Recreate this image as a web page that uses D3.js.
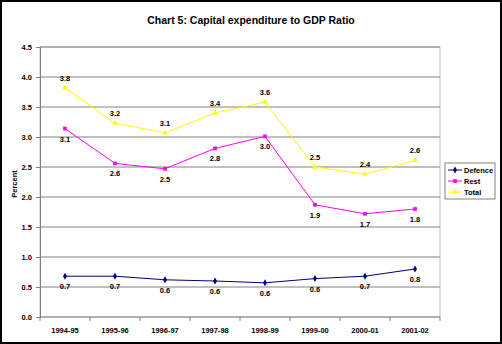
<!DOCTYPE html>
<html>
<head>
<meta charset="utf-8">
<script src="https://cdn.jsdelivr.net/npm/d3@7"></script>
<style>
  body { margin: 0; background: #fff; }
  svg { display: block; font-family: "Liberation Sans", Arial, sans-serif; }
</style>
</head>
<body>
<div id="chart"></div>
<script>
// categories and series
const years = ["1994-95", "1995-96", "1996-97", "1997-98", "1998-99", "1999-00", "2000-01", "2001-02"];
const defence = [0.68, 0.68, 0.62, 0.60, 0.57, 0.64, 0.68, 0.80];
const rest = [3.14, 2.56, 2.47, 2.81, 3.01, 1.87, 1.72, 1.80];
const total = [3.82, 3.23, 3.07, 3.40, 3.58, 2.50, 2.38, 2.61];
const yTicks = [0, 0.5, 1, 1.5, 2, 2.5, 3, 3.5, 4, 4.5];

const W = 502, H = 344;
var margin = { top: 47, right: 62, bottom: 27, left: 40 },
    width = W - margin.left - margin.right,
    height = H - margin.top - margin.bottom;

var root = d3.select("#chart").append("svg")
    .attr("width", W)
    .attr("height", H);

// outer frame
root.append("rect")
    .attr("x", 1).attr("y", 1)
    .attr("width", W - 2).attr("height", H - 2)
    .style("fill", "#fff")
    .style("stroke", "#000")
    .style("stroke-width", 2);

root.append("text")
    .attr("x", W / 2)
    .attr("y", 24)
    .attr("text-anchor", "middle")
    .style("font-size", "10.5px")
    .style("font-weight", "bold")
    .text("Chart 5: Capital expenditure to GDP Ratio");

var svg = root.append("g")
    .attr("transform", "translate(" + margin.left + "," + margin.top + ")");

var x = d3.scaleBand().domain(years).range([0, width]);
var y = d3.scaleLinear().domain([0, 4.5]).range([height, 0]);

// plot frame
svg.append("rect")
    .attr("width", width).attr("height", height)
    .style("fill", "none")
    .style("stroke", "#c0c0c0");

// horizontal gridlines
svg.selectAll(".grid")
    .data(yTicks.filter(d => d > 0))
    .enter().append("line")
    .attr("x1", 0).attr("x2", width)
    .attr("y1", d => y(d)).attr("y2", d => y(d))
    .style("stroke", "#808080");

// y axis
var yAxis = svg.append("g")
    .call(d3.axisLeft(y).tickValues(yTicks).tickFormat(d3.format(".1f")).tickSize(4));
yAxis.select(".domain").style("stroke", "#808080");
yAxis.selectAll(".tick line").style("stroke", "#808080");
yAxis.selectAll("text")
    .attr("x", -8)
    .style("font-size", "7.5px")
    .style("font-weight", "bold")
    .style("font-family", "'Liberation Sans', Arial, sans-serif");

// x axis with ticks between categories
var xAxis = svg.append("g").attr("transform", "translate(0," + height + ")");
xAxis.append("line")
    .attr("x1", 0).attr("x2", width)
    .style("stroke", "#808080");
xAxis.selectAll(".sep")
    .data(d3.range(years.length + 1))
    .enter().append("line")
    .attr("x1", i => i * x.bandwidth()).attr("x2", i => i * x.bandwidth())
    .attr("y1", 0).attr("y2", 4)
    .style("stroke", "#808080");
xAxis.selectAll(".lbl")
    .data(years)
    .enter().append("text")
    .attr("x", d => x(d) + x.bandwidth() / 2)
    .attr("y", 16)
    .attr("text-anchor", "middle")
    .style("font-size", "7.5px")
    .style("font-weight", "bold")
    .text(d => d);

root.append("text")
    .attr("transform", "translate(17," + (margin.top + height / 2 + 2) + ") rotate(-90)")
    .attr("text-anchor", "middle")
    .style("font-size", "7.5px")
    .style("font-weight", "bold")
    .text("Percent");

var series = [
    { name: "Defence", values: defence, color: "#000080", symbol: d3.symbolDiamond, size: 14, labelDy: 13 },
    { name: "Rest", values: rest, color: "#ff00ff", symbol: d3.symbolSquare, size: 14, labelDy: 13 },
    { name: "Total", values: total, color: "#ffff00", symbol: d3.symbolTriangle, size: 14, labelDy: -7 }
];

var cx = i => x(years[i]) + x.bandwidth() / 2;
var line = d3.line().x((d, i) => cx(i)).y(d => y(d));

series.forEach(s => {
    svg.append("path")
        .datum(s.values)
        .attr("d", line)
        .style("fill", "none")
        .style("stroke", s.color)
        .style("stroke-width", 1);

    svg.selectAll(".pt-" + s.name)
        .data(s.values)
        .enter().append("path")
        .attr("transform", (d, i) => "translate(" + cx(i) + "," + y(d) + ")")
        .attr("d", d3.symbol().type(s.symbol).size(s.size))
        .style("fill", s.color);

    svg.selectAll(".lb-" + s.name)
        .data(s.values)
        .enter().append("text")
        .attr("x", (d, i) => cx(i))
        .attr("y", d => y(d) + s.labelDy)
        .attr("text-anchor", "middle")
        .style("font-size", "7.5px")
        .style("font-weight", "bold")
        .text(d => d.toFixed(1));
});

// legend
var legend = root.append("g").attr("transform", "translate(445,163)");
legend.append("rect")
    .attr("width", 50).attr("height", 36)
    .style("fill", "#fff")
    .style("stroke", "#808080");
var item = legend.selectAll(".item")
    .data(series)
    .enter().append("g")
    .attr("transform", (d, i) => "translate(0," + (7 + i * 11) + ")");
item.append("line")
    .attr("x1", 3).attr("x2", 17)
    .style("stroke", d => d.color);
item.append("path")
    .attr("transform", "translate(10,0)")
    .attr("d", d => d3.symbol().type(d.symbol).size(d.size)())
    .style("fill", d => d.color);
item.append("text")
    .attr("x", 19)
    .attr("y", 3)
    .style("font-size", "7.5px")
    .style("font-weight", "bold")
    .text(d => d.name);
</script>
</body>
</html>
